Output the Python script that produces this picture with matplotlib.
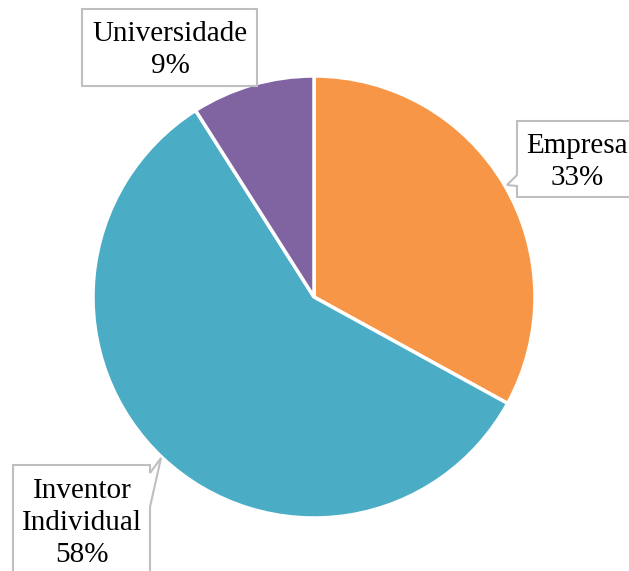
import matplotlib.pyplot as plt
from matplotlib.patches import Polygon

plt.rcParams['font.family'] = ['Liberation Serif', 'DejaVu Serif']

labels = ['Empresa', 'Inventor\nIndividual', 'Universidade']
shares = [33, 58, 9]
colors = ['#F79646', '#4BACC6', '#8064A2']

fig = plt.figure(figsize=(6.29, 5.71), dpi=100)
ax = fig.add_axes([0, 0, 1, 1])

# y runs downward here, so angles are mirrored: -90 is straight up and
# counterclock=True reads clockwise on screen
ax.pie(shares, colors=colors, startangle=-90, counterclock=True,
       center=(314, 297), radius=221, frame=True,
       wedgeprops=dict(edgecolor='white', linewidth=2.5))
ax.set_xlim(0, 629)
ax.set_ylim(571, 0)
ax.axis('off')

# callout outlines (x, y in pixels from top-left)
callouts = [
    [(517, 121), (640, 121), (640, 197), (517, 197), (517, 186), (507, 185), (517, 175)],
    [(13, 465), (150, 465), (150, 473), (161, 458), (150, 507), (150, 580), (13, 580)],
    [(82, 9), (257, 9), (257, 86), (82, 86)],
]
text_pos = [(577, 162), (82, 523), (170, 50)]

for pts, (tx, ty), lab, v in zip(callouts, text_pos, labels, shares):
    ax.add_patch(Polygon(pts, closed=True, facecolor='white',
                         edgecolor='#BFBFBF', linewidth=1.5, zorder=3))
    ax.text(tx, ty, f'{lab}\n{v}%', ha='center', va='center',
            fontsize=21, linespacing=1.32, zorder=4)

fig.savefig('out.png', dpi=100)
